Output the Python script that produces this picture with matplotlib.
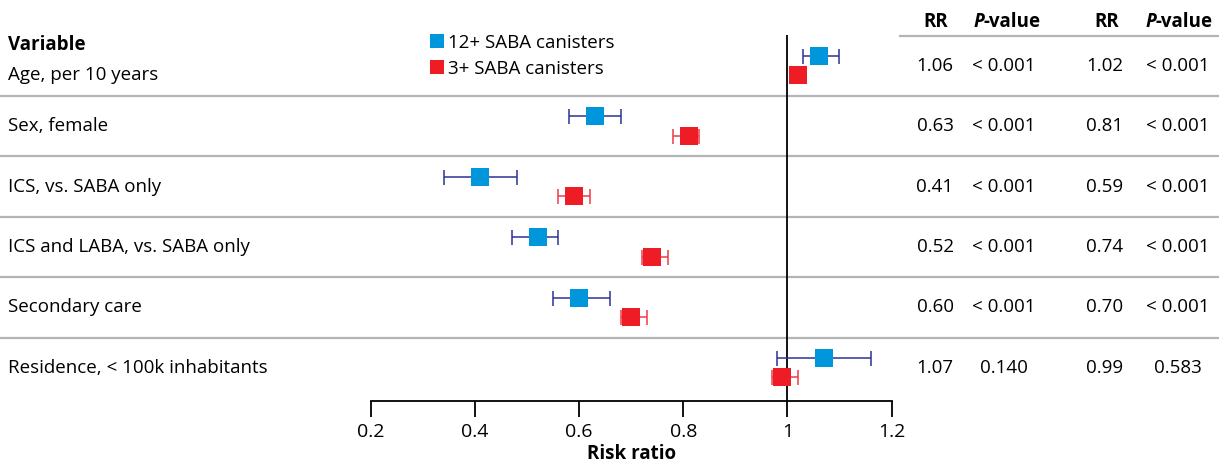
import matplotlib
matplotlib.use('Agg')
import matplotlib.pyplot as plt
import matplotlib.transforms as mtransforms
from matplotlib.lines import Line2D
import numpy as np

plt.rcParams['font.family'] = ['Open Sans', 'DejaVu Sans']

variables = ['Age, per 10 years', 'Sex, female', 'ICS, vs. SABA only',
             'ICS and LABA, vs. SABA only', 'Secondary care',
             'Residence, < 100k inhabitants']

# 12+ SABA canisters
rr_12 = [1.06, 0.63, 0.41, 0.52, 0.60, 1.07]
lo_12 = [1.03, 0.58, 0.34, 0.47, 0.55, 0.98]
hi_12 = [1.10, 0.68, 0.48, 0.56, 0.66, 1.16]
p_12 = ['< 0.001', '< 0.001', '< 0.001', '< 0.001', '< 0.001', '0.140']

# 3+ SABA canisters
rr_3 = [1.02, 0.81, 0.59, 0.74, 0.70, 0.99]
lo_3 = [1.01, 0.78, 0.56, 0.72, 0.68, 0.97]
hi_3 = [1.03, 0.83, 0.62, 0.77, 0.73, 1.02]
p_3 = ['< 0.001', '< 0.001', '< 0.001', '< 0.001', '< 0.001', '0.583']

xticks = [0.2, 0.4, 0.6, 0.8, 1.0, 1.2]
xtick_labels = ['0.2', '0.4', '0.6', '0.8', '1', '1.2']

blue = '#0096dc'
blue_bar = '#2e3192'
red = '#ee1d25'
red_bar = '#ee3a48'
sep_color = '#b4b4b4'

W, H = 1219, 463
fig = plt.figure(figsize=(W / 100, H / 100), dpi=100)
ax = fig.add_axes([371 / W, (H - 401) / H, 520.5 / W, 366 / H])

rows = np.arange(len(variables))
y12 = rows - 0.16
y3 = rows + 0.16

rr_12a, rr_3a = np.array(rr_12), np.array(rr_3)
err12 = [rr_12a - np.array(lo_12), np.array(hi_12) - rr_12a]
err3 = [rr_3a - np.array(lo_3), np.array(hi_3) - rr_3a]

ax.errorbar(rr_12, y12, xerr=err12, fmt='none', ecolor=blue_bar,
            elinewidth=1.1, capsize=5.4, capthick=1.1, zorder=2)
ax.errorbar(rr_3, y3, xerr=err3, fmt='none', ecolor=red_bar,
            elinewidth=1.1, capsize=5.4, capthick=1.1, zorder=2)
ax.plot(rr_12, y12, 's', color=blue, ms=13, mew=0, zorder=3)
ax.plot(rr_3, y3, 's', color=red, ms=13, mew=0, zorder=3)

ax.axvline(1.0, color='black', lw=1.3, zorder=1)

ax.set_xlim(0.2, 1.2)
ax.set_ylim(5.55, -0.509)
for s in ['top', 'right', 'left']:
    ax.spines[s].set_visible(False)
ax.spines['bottom'].set_linewidth(1.3)
ax.set_yticks([])
ax.set_xticks(xticks)
ax.set_xticklabels(xtick_labels)
ax.tick_params(axis='x', direction='out', length=11.5, width=1.3,
               labelsize=14, pad=4)
ax.set_xlabel('Risk ratio', fontsize=13.5, fontweight='bold', labelpad=2.5)

# row separators across the whole figure width
trans = mtransforms.blended_transform_factory(fig.transFigure, ax.transData)
for i in rows[:-1]:
    ax.add_line(Line2D([0, 1], [i + 0.5, i + 0.5], transform=trans,
                       color=sep_color, lw=1.6, clip_on=False, zorder=0))

fs = 13.5
label_pos = rows.astype(float)
label_pos[0] = 0.15
for i, name in enumerate(variables):
    ax.text(8 / W, label_pos[i], name, transform=trans, fontsize=fs,
            va='center', ha='left')
    ax.text(935 / W, rows[i], f'{rr_12[i]:.2f}', transform=trans,
            fontsize=fs, va='center', ha='center')
    ax.text(1004 / W, rows[i], p_12[i], transform=trans,
            fontsize=fs, va='center', ha='center')
    ax.text(1105 / W, rows[i], f'{rr_3[i]:.2f}', transform=trans,
            fontsize=fs, va='center', ha='center')
    ax.text(1178 / W, rows[i], p_3[i], transform=trans,
            fontsize=fs, va='center', ha='center')

# header
fig.text(8 / W, 1 - 45 / H, 'Variable', fontsize=fs, fontweight='bold',
         va='center', ha='left')
hy = 1 - 22 / H
for rr_x, p_x in [(936, 984), (1107, 1156)]:
    fig.text(rr_x / W, hy, 'RR', fontsize=fs, fontweight='bold',
             va='center', ha='center')
    fig.text(p_x / W, hy, 'P', fontsize=fs, fontweight='bold',
             style='italic', va='center', ha='right')
    fig.text(p_x / W, hy, '-value', fontsize=fs, fontweight='bold',
             va='center', ha='left')
fig.add_artist(Line2D([900 / W, 1], [1 - 36 / H, 1 - 36 / H],
                      color=sep_color, lw=1.6))

handles = [Line2D([], [], marker='s', color=blue, ls='none', ms=9.5, mew=0),
           Line2D([], [], marker='s', color=red, ls='none', ms=9.5, mew=0)]
fig.legend(handles, ['12+ SABA canisters', '3+ SABA canisters'],
           loc='upper left', bbox_to_anchor=(429 / W, 1 - 34 / H),
           frameon=False, fontsize=13.5, handlelength=0.8, handletextpad=0.2,
           labelspacing=0.4, borderpad=0, borderaxespad=0)

fig.savefig('out.png', dpi=100)
